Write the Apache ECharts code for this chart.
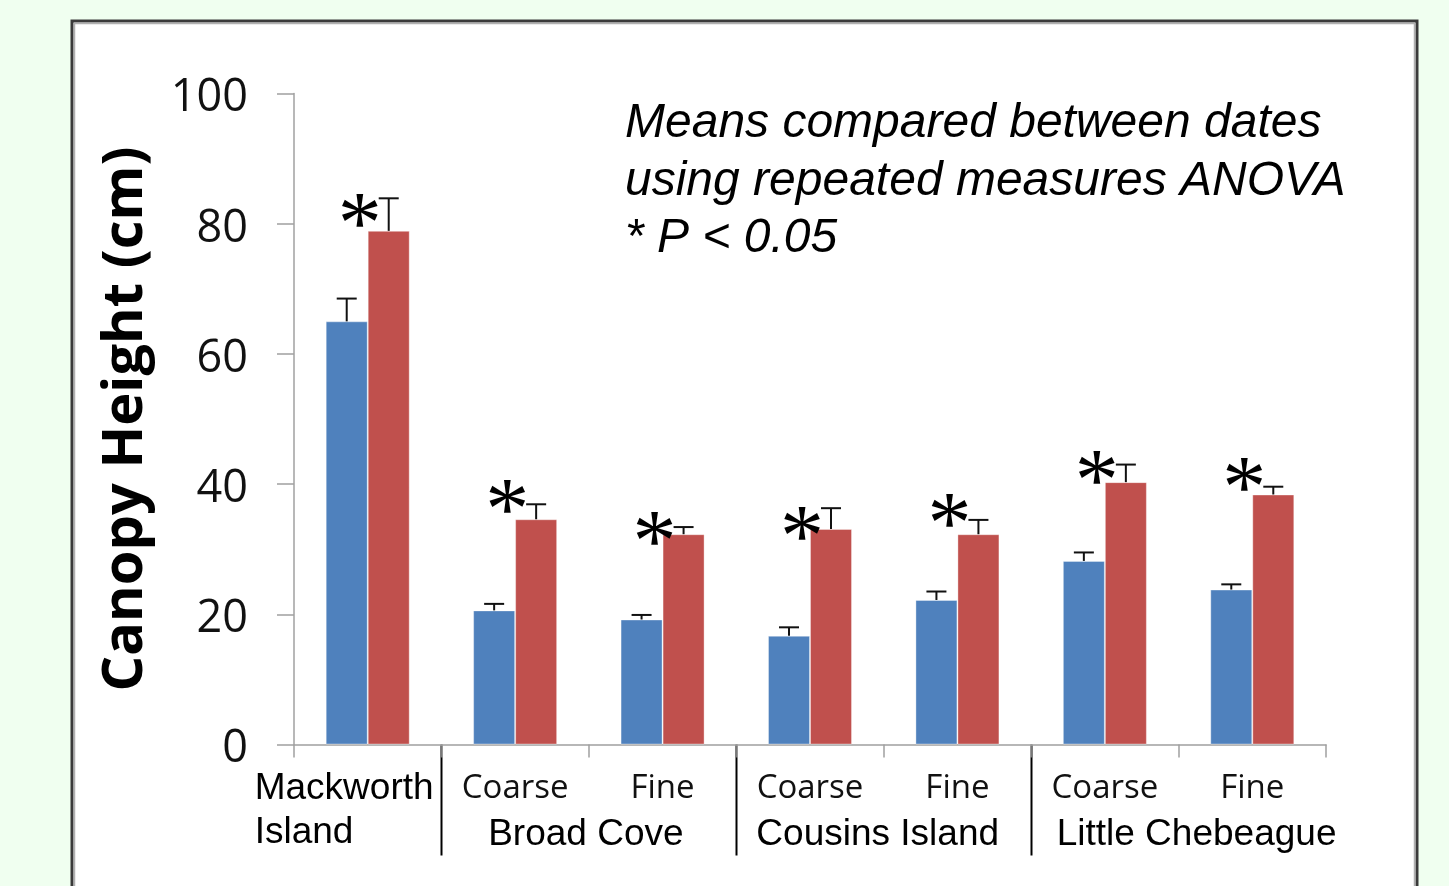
<!DOCTYPE html>
<html>
<head>
<meta charset="utf-8">
<title>Canopy Height</title>
<script src="https://cdn.jsdelivr.net/npm/echarts@6/dist/echarts.min.js"></script>
<style>
  html, body { margin: 0; padding: 0; background: #f0fff0; }
  #chart { width: 1449px; height: 886px; }
</style>
</head>
<body>
<div id="chart"></div>
<script>
// Sites and sediment texture for each bar pair
const sites = ['Mackworth Island', 'Broad Cove', 'Broad Cove', 'Cousins Island', 'Cousins Island', 'Little Chebeague', 'Little Chebeague'];
const textures = ['', 'Coarse', 'Fine', 'Coarse', 'Fine', 'Coarse', 'Fine'];
const categories = sites.map((s, i) => s + (textures[i] ? ' ' + textures[i] : ''));

// Mean canopy height (cm) on each sampling date, with standard errors
const firstDate = [65.0, 20.6, 19.2, 16.7, 22.2, 28.2, 23.8];
const secondDate = [78.9, 34.6, 32.3, 33.1, 32.3, 40.3, 38.4];
const firstDateSE = [3.5, 1.0, 0.7, 1.3, 1.3, 1.3, 0.8];
const secondDateSE = [5.0, 2.3, 1.1, 3.2, 2.2, 2.7, 1.2];

// Height at which each significance asterisk sits (P < 0.05)
const starLevel = [81.9, 38.0, 33.0, 33.8, 35.8, 42.5, 41.3];

// Y axis ticks
const yTicks = [0, 20, 40, 60, 80, 100];

const noteLines = ['Means compared between dates', 'using repeated measures ANOVA', '* P < 0.05'];

const BAR_W = 42;
const STAR_SIZE = 88;
const blue = '#4f81bd';
const red = '#c0504d';

const chart = echarts.init(document.getElementById('chart'));

function errorBars(offset) {
  return function (params, api) {
    const i = api.value(0);
    const base = api.coord([i, api.value(1)]);
    const top = api.coord([i, api.value(1) + api.value(2)]);
    const x = base[0] + offset;
    return {
      type: 'group',
      children: [
        { type: 'line', shape: { x1: x, y1: base[1], x2: x, y2: top[1] }, style: { stroke: '#111', lineWidth: 2 } },
        { type: 'line', shape: { x1: x - 10, y1: top[1], x2: x + 10, y2: top[1] }, style: { stroke: '#111', lineWidth: 2 } }
      ]
    };
  };
}

const option = {
  backgroundColor: '#f0fff0',
  animation: false,
  grid: { left: 294, right: 123, top: 93.5, bottom: 141.5 },
  xAxis: {
    type: 'category',
    data: categories,
    axisLine: { lineStyle: { color: '#a0a0a0', width: 1.5 } },
    axisTick: { show: true, length: 13, lineStyle: { color: '#a0a0a0', width: 1.5 } },
    axisLabel: {
      interval: 0,
      margin: 28,
      color: '#111',
      fontFamily: 'Open Sans',
      fontSize: 33,
      formatter: (v, idx) => textures[idx]
    }
  },
  yAxis: {
    type: 'value',
    min: yTicks[0],
    max: yTicks[yTicks.length - 1],
    interval: 20,
    name: 'Canopy Height (cm)',
    nameLocation: 'middle',
    nameGap: 140,
    nameRotate: 90,
    nameTextStyle: { fontFamily: 'Open Sans', fontWeight: 'bold', fontSize: 56, color: '#000' },
    axisLine: { show: true, lineStyle: { color: '#a0a0a0', width: 1.5 } },
    axisTick: { show: true, length: 17, lineStyle: { color: '#a0a0a0', width: 1.5 } },
    axisLabel: {
      margin: 46,
      formatter: v => '{t|' + v + '}',
      rich: { t: { color: '#111', fontFamily: 'Open Sans', fontSize: 45, padding: [10, 0, 0, 0] } }
    },
    splitLine: { show: false }
  },
  series: [
    {
      name: 'First date', type: 'bar', data: firstDate, barWidth: BAR_W, barGap: '0%',
      itemStyle: { color: blue, borderColor: 'rgba(255,255,255,0.35)', borderWidth: 1 }
    },
    {
      name: 'Second date', type: 'bar', data: secondDate, barWidth: BAR_W, barGap: '0%',
      itemStyle: { color: red, borderColor: 'rgba(255,255,255,0.35)', borderWidth: 1 }
    },
    {
      type: 'custom', renderItem: errorBars(-BAR_W / 2), z: 5,
      data: firstDate.map((v, i) => [i, v, firstDateSE[i]])
    },
    {
      type: 'custom', renderItem: errorBars(BAR_W / 2), z: 5,
      data: secondDate.map((v, i) => [i, v, secondDateSE[i]])
    },
    {
      type: 'custom', z: 6,
      renderItem: function (params, api) {
        const p = api.coord([api.value(0), api.value(1)]);
        return {
          type: 'text', x: p[0] - 8, y: p[1] + 0.2 * STAR_SIZE,
          style: { text: '*', fontFamily: 'Liberation Serif', fontSize: STAR_SIZE, fill: '#000', align: 'center', verticalAlign: 'middle' }
        };
      },
      data: starLevel.map((v, i) => [i, v])
    }
  ]
};

chart.setOption(option);

// Site labels, group dividers, frame and note, placed from the axis scale
const px = i => chart.convertToPixel({ gridIndex: 0 }, [i, 0]);
const y0 = px(0)[1];
const boundary = i => (px(i)[0] + px(i + 1)[0]) / 2;
const siteFont = '37px "Liberation Sans", Arial, sans-serif';

const graphics = [
  { type: 'rect', z: -10, shape: { x: 72, y: 21, width: 1345, height: 900 }, style: { fill: '#fff', stroke: '#3a3a3a', lineWidth: 3 } },
  { type: 'rect', z: -9, shape: { x: 74.5, y: 23.5, width: 1340, height: 900 }, style: { fill: null, stroke: '#b0b0b0', lineWidth: 1.5 } }
];

// Mackworth Island (single site, two-line label)
graphics.push({
  type: 'text', x: px(0)[0] - 113, y: y0 + 66,
  style: { text: 'Mackworth\nIsland', font: siteFont, lineHeight: 44, fill: '#000', align: 'left', verticalAlign: 'middle' }
});
// Paired sites under their two bars
[[1, 'Broad Cove', -3], [3, 'Cousins Island', -6], [5, 'Little Chebeague', 18]].forEach(([i, name, dx]) => {
  graphics.push({
    type: 'text', x: boundary(i) + dx, y: y0 + 90,
    style: { text: name, font: siteFont, fill: '#000', align: 'center', verticalAlign: 'middle' }
  });
});
[0, 2, 4].forEach(i => {
  const x = Math.round(boundary(i)) + 0.5;
  graphics.push({ type: 'line', shape: { x1: x, y1: y0, x2: x, y2: y0 + 111 }, style: { stroke: '#000', lineWidth: 2 } });
});
noteLines.forEach((t, k) => {
  graphics.push({
    type: 'text', x: 625, y: 124 + k * 57.5,
    style: { text: t, font: 'italic 48px "Liberation Sans", Arial, sans-serif', fill: '#000', align: 'left', verticalAlign: 'middle' }
  });
});

chart.setOption({ graphic: graphics });
</script>
</body>
</html>
